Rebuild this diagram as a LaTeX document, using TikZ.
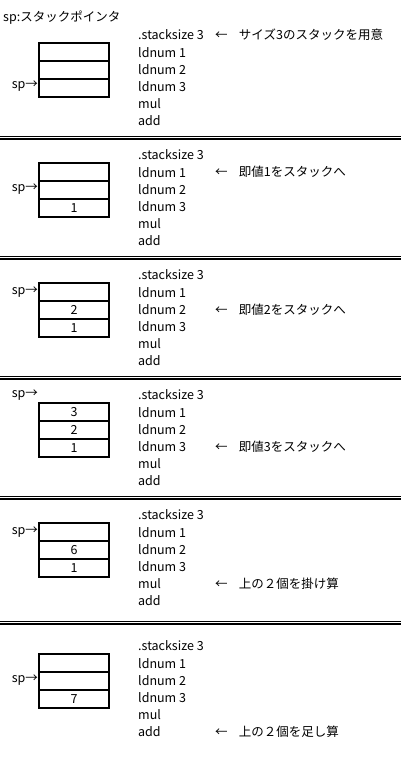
\documentclass[tikz,border=0pt]{standalone}
\usepackage{fontspec}
\setmainfont{Noto Sans CJK JP}
\usepackage{tikz}
\usetikzlibrary{positioning}

\begin{document}
\begin{tikzpicture}[
  x=1pt, y=-1pt,
  every node/.style={font=\fontsize{12.5}{14}\selectfont},
  code/.style={anchor=west, inner sep=0pt},
  cell/.style={draw, line width=0.8pt, minimum width=69pt, minimum height=17.2pt,
               inner sep=0pt},
  frame/.style={draw, line width=2pt},
  note/.style={anchor=west, inner sep=0pt},
  sep/.style={double, double distance=1.8pt, line width=1.1pt}
]
  \useasboundingbox (0,0) rectangle (401,757);

  % Title
  \node[code] (title) at (3,18) {sp:スタックポインタ};

  % Panels: number / code line y / sp row / stack cells / note row / note
  \foreach \p/\b/\sp/\va/\vb/\vc/\ann/\txt in {
      1/35/3/{}/{}/{}/0/サイズ3のスタックを用意,
      2/155/2/{}/{}/1/1/即値1をスタックへ,
      3/275/1/{}/2/1/2/即値2をスタックへ,
      4/395/0/3/2/1/3/即値3をスタックへ,
      5/515/1/{}/6/1/4/上の２個を掛け算,
      6/646/2/{}/{}/7/5/上の２個を足し算} {
    % Code listing
    \foreach \i/\line in {0/.stacksize 3, 1/ldnum 1, 2/ldnum 2, 3/ldnum 3, 4/mul, 5/add}
      \node[code] (c\p-\i) at (138,\b+17.2*\i) {\line};

    % Stack of three cells
    \node[cell] (s\p-1) at (74,\b+17.2) {\va};
    \node[cell, below=0pt of s\p-1] (s\p-2) {\vb};
    \node[cell, below=0pt of s\p-2] (s\p-3) {\vc};
    \draw[frame] (s\p-1.north west) rectangle (s\p-3.south east);

    % Stack pointer and comment
    \node[anchor=east, inner sep=1pt] (sp\p) at (s\p-1.west |- c\p-\sp.west) {sp→};
    \node[note] (n\p) at (215,\b+17.2*\ann) {←\hspace{0.9em}\txt};
  }

  % Separators between steps
  \draw[sep] (0,137.5) -- (401,137.5);
  \draw[sep] (0,257.5) -- (401,257.5);
  \draw[sep] (0,377.5) -- (401,377.5);
  \draw[sep] (0,497.5) -- (401,497.5);
  \draw[sep] (0,622.5) -- (401,622.5);
\end{tikzpicture}
\end{document}
